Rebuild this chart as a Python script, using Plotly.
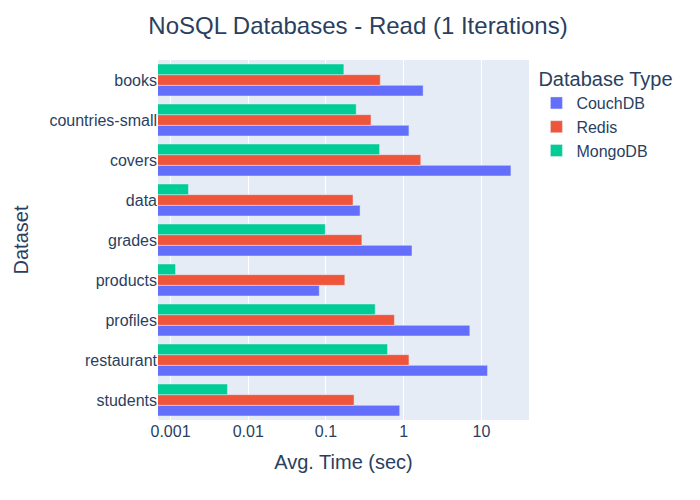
import plotly.graph_objects as go
import numpy as np

datasets = ["books", "countries-small", "covers", "data", "grades",
            "products", "profiles", "restaurant", "students"]
couchdb = [1.78, 1.17, 24, 0.275, 1.28, 0.082, 7.1, 12, 0.89]
redis = [0.5, 0.38, 1.66, 0.223, 0.29, 0.175, 0.76, 1.17, 0.23]
mongodb = [0.17, 0.245, 0.49, 0.0017, 0.098, 0.00116, 0.43, 0.62, 0.0054]

fig = go.Figure()
fig.add_trace(go.Bar(name="CouchDB", y=datasets, x=couchdb, orientation="h"))
fig.add_trace(go.Bar(name="Redis", y=datasets, x=redis, orientation="h"))
fig.add_trace(go.Bar(name="MongoDB", y=datasets, x=mongodb, orientation="h"))

fig.update_layout(
    template="plotly",
    width=700, height=500,
    barmode="group",
    title=dict(text="NoSQL Databases - Read (1 Iterations)", x=0.5, font=dict(size=24)),
    font=dict(size=16, family="Arial"),
    legend=dict(title=dict(text="Database Type", font=dict(size=20))),
    margin=dict(l=60, r=179, t=52, b=88),
    xaxis=dict(type="log", title=dict(text="Avg. Time (sec)", font=dict(size=20)),
               range=[np.log10(0.00069), np.log10(41)],
               tickvals=[0.001, 0.01, 0.1, 1, 10],
               ticktext=["0.001", "0.01", "0.1", "1", "10"]),
    yaxis=dict(title=dict(text="Dataset", font=dict(size=20)),
               categoryorder="array", categoryarray=datasets[::-1]),
)
fig.write_html("out.html")
